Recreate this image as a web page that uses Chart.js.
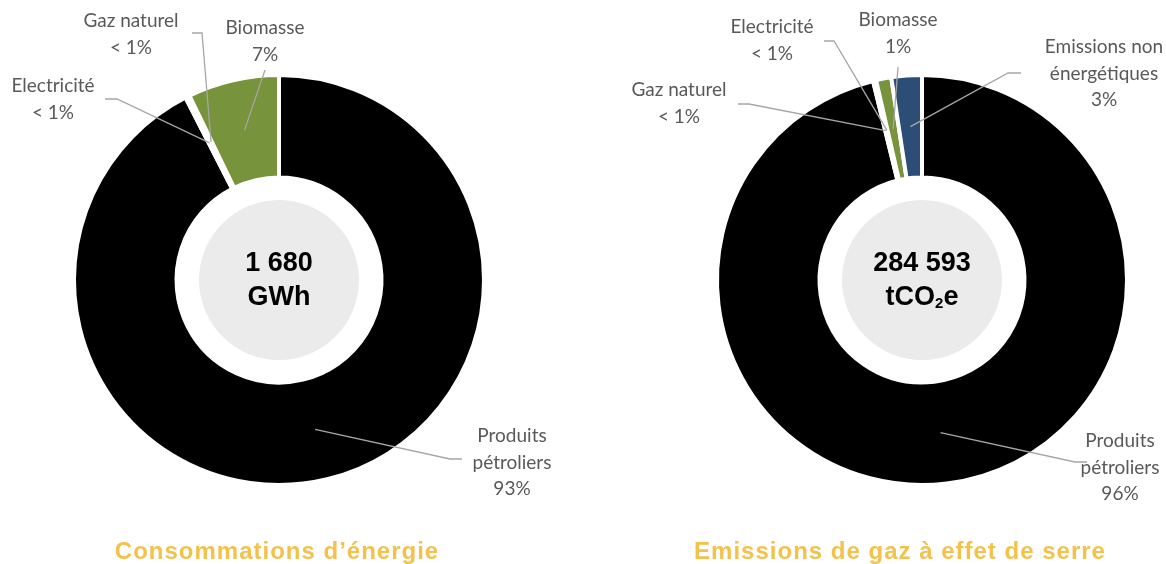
<!DOCTYPE html>
<html>
<head>
  <title>Consommations et émissions</title>
  <script src="https://cdn.jsdelivr.net/npm/chart.js"></script>
  <style>
    body { margin: 0; background: #fff; }
    .wrap { position: relative; width: 1166px; height: 564px; }
    canvas { position: absolute; top: 0; }
  </style>
</head>
<body>
<div class="wrap">
  <canvas id="energie" width="583" height="564" style="left:0"></canvas>
  <canvas id="ges" width="583" height="564" style="left:583px"></canvas>
</div>
<script>
// --- données ---
const energieLabels = [['Produits', 'pétroliers'], ['Electricité'], ['Gaz naturel'], ['Biomasse']];
const energieValues = [92.5, 0.17, 0.17, 7.2];
const energiePct = ['93%', '< 1%', '< 1%', '7%'];
const energieColors = ['#000000', '#ffffff', '#ffffff', '#77933c'];
const energieTotal = ['1 680', 'GWh'];

const gesLabels = [['Produits', 'pétroliers'], ['Gaz naturel'], ['Electricité'], ['Biomasse'], ['Emissions non', 'énergétiques']];
const gesValues = [96.2, 0.12, 0.12, 1.2, 2.4];
const gesPct = ['96%', '< 1%', '< 1%', '1%', '3%'];
const gesColors = ['#000000', '#ffffff', '#ffffff', '#77933c', '#2c4d75'];
const gesTotal = ['284 593', 'tCO|2|e'];

// --- placement des étiquettes (coordonnées page) ---
const energieCallouts = [
  { x: 512, y: 436, path: [[462, 459], [450, 459]] },
  { x: 53, y: 86, path: [[105, 99], [117, 99]] },
  { x: 131, y: 21, path: [[192, 33], [202, 33]] },
  { x: 265, y: 28, path: [[265, 70]] }
];
const gesCallouts = [
  { x: 1120, y: 441, path: [[1087, 462], [1075, 462]] },
  { x: 679, y: 90, path: [[738, 104], [749, 104]] },
  { x: 772, y: 27, path: [[824, 41], [834, 41]] },
  { x: 898, y: 20, path: [[898, 67]] },
  { x: 1104, y: 47, path: [[1021, 73], [1008, 73]] }
];

const LABEL_FONT = '19px Lato';
const CENTER_FONT = 'bold 27px "Liberation Sans", Arial';

function makeChart(id, offsetX, pad, labels, values, colors, pct, callouts, total, title, titleX) {
  const plugin = {
    id: 'deco_' + id,
    afterDatasetsDraw(chart) {
      const ctx = chart.ctx;
      const arcs = chart.getDatasetMeta(0).data;
      const cx = arcs[0].x, cy = arcs[0].y;
      ctx.save();
      // disque central
      ctx.fillStyle = '#ebebeb';
      ctx.beginPath();
      ctx.arc(cx, cy, 80, 0, Math.PI * 2);
      ctx.fill();
      // total au centre
      ctx.fillStyle = '#000';
      ctx.textBaseline = 'middle';
      ctx.font = CENTER_FONT;
      total.forEach((line, i) => {
        const y = cy - 16 + i * 34;
        const parts = line.split('|');
        const fonts = parts.map((p, k) => k % 2 ? 'bold 15px "Liberation Sans", Arial' : CENTER_FONT);
        let w = 0;
        parts.forEach((p, k) => { ctx.font = fonts[k]; w += ctx.measureText(p).width; });
        let x = cx - w / 2;
        ctx.textAlign = 'left';
        parts.forEach((p, k) => {
          ctx.font = fonts[k];
          ctx.fillText(p, x, k % 2 ? y + 6 : y);
          x += ctx.measureText(p).width;
        });
      });
      // lignes de rappel
      ctx.strokeStyle = '#a6a6a6';
      ctx.lineWidth = 1.3;
      callouts.forEach((c, i) => {
        const p = arcs[i].getCenterPoint();
        ctx.beginPath();
        c.path.forEach((pt, k) => {
          const fn = k === 0 ? 'moveTo' : 'lineTo';
          ctx[fn](pt[0] - offsetX, pt[1]);
        });
        ctx.lineTo(p.x, p.y);
        ctx.stroke();
      });
      // étiquettes
      ctx.fillStyle = '#595959';
      ctx.font = LABEL_FONT;
      ctx.textAlign = 'center';
      callouts.forEach((c, i) => {
        const lines = labels[i].concat([pct[i]]);
        lines.forEach((t, k) => ctx.fillText(t, c.x - offsetX, c.y + k * 26.5));
      });
      // titre
      ctx.fillStyle = '#f4c14b';
      ctx.font = 'bold 24px "Liberation Sans", Arial';
      ctx.letterSpacing = '1px';
      ctx.fillText(title, titleX - offsetX, 552);
      ctx.restore();
    }
  };

  return new Chart(document.getElementById(id), {
    type: 'doughnut',
    data: {
      labels: labels.map(l => l.join(' ')),
      datasets: [{
        data: values,
        backgroundColor: colors,
        borderColor: '#ffffff',
        borderWidth: 4,
        radius: 205,
        cutout: '50%'
      }]
    },
    options: {
      responsive: false,
      animation: false,
      events: [],
      layout: { padding: pad },
      plugins: { legend: { display: false }, tooltip: { enabled: false } }
    },
    plugins: [plugin]
  });
}

makeChart('energie', 0, { left: 0, right: 25, top: 0, bottom: 4 },
  energieLabels, energieValues, energieColors, energiePct, energieCallouts, energieTotal,
  'Consommations d’énergie', 277);

makeChart('ges', 583, { left: 95, right: 0, top: 0, bottom: 4 },
  gesLabels, gesValues, gesColors, gesPct, gesCallouts, gesTotal,
  'Emissions de gaz à effet de serre', 900);
</script>
</body>
</html>
